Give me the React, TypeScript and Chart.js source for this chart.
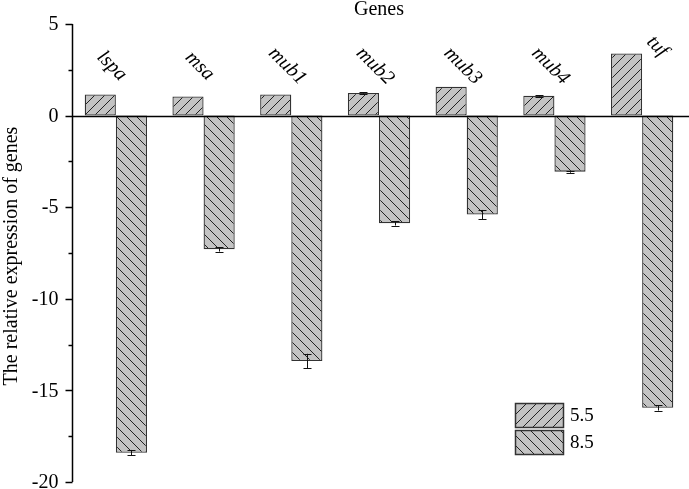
import React, { useEffect, useRef } from "react";
import { Chart, registerables } from "chart.js";
Chart.register(...registerables);

const genes = ["lspa", "msa", "mub1", "mub2", "mub3", "mub4", "tuf"];
const seriesLabels = ["5.5", "8.5"];
const values55 = [1.15, 1.04, 1.15, 1.24, 1.57, 1.08, 3.39];
const values85 = [-18.4, -7.3, -13.4, -5.88, -5.4, -3.06, -15.95];
const errors55 = [0, 0, 0, 0.04, 0, 0.04, 0];
const errors85 = [0.15, 0.12, 0.4, 0.12, 0.25, 0.06, 0.15];
const yMajorTicks = [5, 0, -5, -10, -15, -20];
const yMinorTicks = [2.5, -2.5, -7.5, -12.5, -17.5];
const xTitle = "Genes";
const yTitle = "The relative expression of genes";

const FONT = '"Liberation Serif", "Times New Roman", serif';
const FILL = "#c3c3c3";
const EDGE = "#333333";

function makeHatch(forward: boolean): CanvasPattern | string {
  const c = document.createElement("canvas");
  const s = 10;
  c.width = s;
  c.height = s;
  const g = c.getContext("2d");
  if (!g) return FILL;
  g.fillStyle = FILL;
  g.fillRect(0, 0, s, s);
  g.strokeStyle = "#222";
  g.lineWidth = 1;
  g.beginPath();
  if (forward) {
    g.moveTo(-1, s + 1); g.lineTo(s + 1, -1);
    g.moveTo(-1, 1); g.lineTo(1, -1);
    g.moveTo(s - 1, s + 1); g.lineTo(s + 1, s - 1);
  } else {
    g.moveTo(-1, -1); g.lineTo(s + 1, s + 1);
    g.moveTo(-1, s - 1); g.lineTo(1, s + 1);
    g.moveTo(s - 1, -1); g.lineTo(s + 1, 1);
  }
  g.stroke();
  const p = g.createPattern(c, "repeat");
  return p || FILL;
}

export default function App() {
  const ref = useRef<HTMLCanvasElement | null>(null);

  useEffect(() => {
    if (!ref.current) return;
    const hatch55 = makeHatch(true);
    const hatch85 = makeHatch(false);
    const errs = [errors55, errors85];
    const hatches = [hatch55, hatch85];

    const overlay = {
      id: "overlay",
      afterDatasetsDraw(chart: any) {
        const ctx = chart.ctx;
        const y = chart.scales.y;
        const x = chart.scales.x;
        const area = chart.chartArea;
        ctx.save();
        // error bars
        ctx.strokeStyle = "#111";
        ctx.lineWidth = 1;
        chart.data.datasets.forEach((ds: any, di: number) => {
          const meta = chart.getDatasetMeta(di);
          meta.data.forEach((bar: any, i: number) => {
            const e = errs[di][i];
            if (!e) return;
            const v = ds.data[i];
            const cx = Math.round(bar.x) + 0.5;
            const y1 = y.getPixelForValue(v - e);
            const y2 = y.getPixelForValue(v + e);
            ctx.beginPath();
            ctx.moveTo(cx, y1); ctx.lineTo(cx, y2);
            ctx.moveTo(cx - 4, Math.round(y1) + 0.5); ctx.lineTo(cx + 4, Math.round(y1) + 0.5);
            ctx.moveTo(cx - 4, Math.round(y2) + 0.5); ctx.lineTo(cx + 4, Math.round(y2) + 0.5);
            ctx.stroke();
          });
        });
        // zero line
        const y0 = Math.round(y.getPixelForValue(0)) + 0.5;
        ctx.strokeStyle = "#000";
        ctx.lineWidth = 1.5;
        ctx.beginPath();
        ctx.moveTo(area.left, y0);
        ctx.lineTo(chart.width, y0);
        ctx.stroke();
        // y axis line
        const ax = Math.round(area.left) + 0.5;
        ctx.beginPath();
        ctx.moveTo(ax, y.getPixelForValue(5));
        ctx.lineTo(ax, y.getPixelForValue(-20));
        ctx.stroke();
        // ticks
        yMajorTicks.forEach((t) => {
          const py = Math.round(y.getPixelForValue(t)) + 0.5;
          ctx.beginPath();
          ctx.moveTo(ax - 7, py); ctx.lineTo(ax, py);
          ctx.stroke();
        });
        yMinorTicks.forEach((t) => {
          const py = Math.round(y.getPixelForValue(t)) + 0.5;
          ctx.beginPath();
          ctx.moveTo(ax - 4, py); ctx.lineTo(ax, py);
          ctx.stroke();
        });
        // tick labels
        ctx.fillStyle = "#000";
        ctx.font = `20px ${FONT}`;
        ctx.textAlign = "right";
        ctx.textBaseline = "middle";
        yMajorTicks.forEach((t) => {
          ctx.fillText(String(t), ax - 14, y.getPixelForValue(t) + 1);
        });
        // y title
        ctx.save();
        ctx.translate(12, (area.top + area.bottom) / 2 + 3);
        ctx.rotate(-Math.PI / 2);
        ctx.textAlign = "center";
        ctx.textBaseline = "middle";
        ctx.font = `20px ${FONT}`;
        ctx.fillText(yTitle, 0, 0);
        ctx.restore();
        // x title
        ctx.textAlign = "center";
        ctx.textBaseline = "middle";
        ctx.font = `20px ${FONT}`;
        ctx.fillText(xTitle, (area.left + area.right) / 2, 10);
        // gene labels (rotated, above bars; shifted right when bar is tall)
        ctx.font = `italic 20px ${FONT}`;
        const meta0 = chart.getDatasetMeta(0);
        genes.forEach((g, i) => {
          const cx = x.getPixelForValue(i);
          const top = meta0.data[i].y;
          let lx = cx - 4;
          let ly = 66;
          if (top < 85) {
            lx = cx + 15;
            ly = top - 7;
          }
          ctx.save();
          ctx.translate(lx, ly);
          ctx.rotate(Math.PI / 4);
          ctx.textAlign = "center";
          ctx.textBaseline = "middle";
          ctx.fillText(g, 0, 0);
          ctx.restore();
        });
        // legend
        const lx = 515;
        const boxW = 48;
        const boxH = 24;
        seriesLabels.forEach((lab, i) => {
          const ly = 403 + i * 27;
          ctx.fillStyle = hatches[i] as any;
          ctx.fillRect(lx, ly, boxW, boxH);
          ctx.strokeStyle = EDGE;
          ctx.lineWidth = 1.5;
          ctx.strokeRect(lx + 0.5, ly + 0.5, boxW, boxH);
          ctx.fillStyle = "#000";
          ctx.font = `19px ${FONT}`;
          ctx.textAlign = "left";
          ctx.textBaseline = "middle";
          ctx.fillText(lab, lx + boxW + 7, ly + boxH / 2 + 1);
        });
        ctx.restore();
      },
    };

    const chart = new Chart(ref.current, {
      type: "bar",
      data: {
        labels: genes,
        datasets: [
          {
            label: seriesLabels[0],
            data: values55,
            backgroundColor: hatch55 as any,
            borderColor: EDGE,
            borderWidth: 1.3,
            borderSkipped: false,
          },
          {
            label: seriesLabels[1],
            data: values85,
            backgroundColor: hatch85 as any,
            borderColor: EDGE,
            borderWidth: 1.3,
            borderSkipped: false,
          },
        ],
      },
      options: {
        animation: false,
        responsive: false,
        maintainAspectRatio: false,
        layout: { padding: { left: 72, right: 3, top: 24, bottom: 7 } },
        plugins: { legend: { display: false }, tooltip: { enabled: false } },
        datasets: { bar: { categoryPercentage: 0.71, barPercentage: 1.0 } },
        scales: {
          x: { display: false, grid: { display: false } },
          y: { display: false, min: -20, max: 5, grid: { display: false } },
        },
      },
      plugins: [overlay],
    });
    return () => chart.destroy();
  }, []);

  return (
    <div style={{ position: "fixed", left: 0, top: 0, width: 689, height: 489, background: "#fff" }}>
      <canvas ref={ref} width={689} height={489} style={{ width: 689, height: 489, display: "block" }} />
    </div>
  );
}
